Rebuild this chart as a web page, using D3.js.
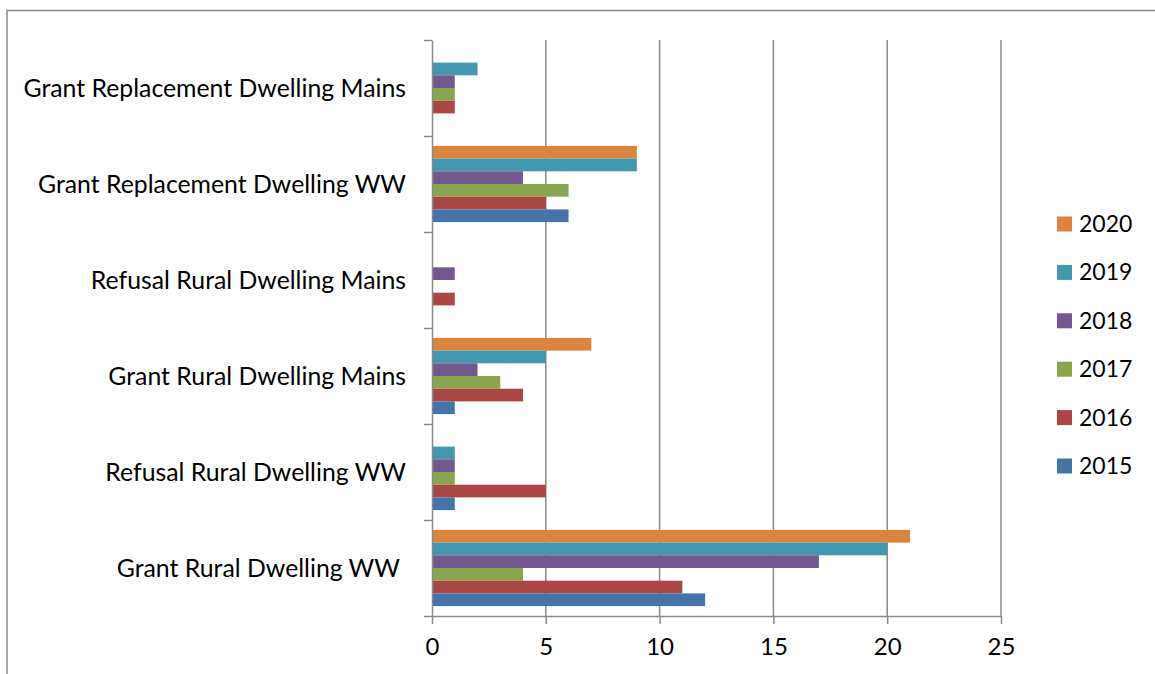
<!DOCTYPE html>
<html>
<head>
<meta charset="utf-8">
<script src="https://cdn.jsdelivr.net/npm/d3@7"></script>
<style>
  body { margin: 0; background: #fff; }
  text { font-family: Lato, "Open Sans", sans-serif; fill: #000; }
</style>
</head>
<body>
<div id="chart"></div>
<script>
// categories top -> bottom as they appear
const categories = [
    "Grant Replacement Dwelling Mains",
    "Grant Replacement Dwelling WW",
    "Refusal Rural Dwelling Mains",
    "Grant Rural Dwelling Mains",
    "Refusal Rural Dwelling WW",
    "Grant Rural Dwelling WW "
]
const years = ["2020", "2019", "2018", "2017", "2016", "2015"]

// values per year, same order as categories
const v2015 = [0, 6, 0, 1, 1, 12]
const v2016 = [1, 5, 1, 4, 5, 11]
const v2017 = [1, 6, 0, 3, 1, 4]
const v2018 = [1, 4, 1, 2, 1, 17]
const v2019 = [2, 9, 0, 5, 1, 20]
const v2020 = [0, 9, 0, 7, 0, 21]

const xTicks = [0, 5, 10, 15, 20, 25]

const colors = {
    "2015": "#4572A7",
    "2016": "#AA4643",
    "2017": "#89A54E",
    "2018": "#71588F",
    "2019": "#4198AF",
    "2020": "#DB843D"
}

const seriesValues = {"2015": v2015, "2016": v2016, "2017": v2017, "2018": v2018, "2019": v2019, "2020": v2020}

var W = 1155, H = 674
var margin = {top: 40, left: 432, right: 154, bottom: 58}
var width = W - margin.left - margin.right,
    height = H - margin.top - margin.bottom

var svg = d3.select("#chart").append("svg")
    .attr("width", W)
    .attr("height", H)

// outer chart border (right/bottom run off the picture)
svg.append("rect")
    .attr("x", 7).attr("y", 10.5)
    .attr("width", W + 20).attr("height", H + 20)
    .attr("fill", "none")
    .attr("stroke", "#8a8a8a")
    .attr("stroke-width", 1.5)

var g = svg.append("g")
    .attr("transform", "translate(" + margin.left + "," + margin.top + ")")

var x = d3.scaleLinear().domain([0, 25]).range([0, width])
var y = d3.scaleBand().domain(categories).range([0, height]).paddingInner(0)
var yInner = d3.scaleBand().domain(years).range([0, y.bandwidth()]).paddingInner(0).paddingOuter(0.78)
var yEdge = d3.scaleLinear().domain([0, categories.length]).range([0, height])

// vertical gridlines
g.append("g")
    .selectAll("line")
    .data(xTicks.filter(d => d > 0))
    .enter()
    .append("line")
    .attr("x1", d => x(d)).attr("x2", d => x(d))
    .attr("y1", 0).attr("y2", height)
    .attr("stroke", "#8a8a8a")
    .attr("stroke-width", 1.5)

// bars
var rows = []
categories.forEach(function(c, i) {
    years.forEach(function(yr) {
        rows.push({cat: c, year: yr, value: seriesValues[yr][i]})
    })
})

g.selectAll("bars")
    .data(rows.filter(d => d.value > 0))
    .enter()
    .append("rect")
    .attr("x", x(0))
    .attr("y", d => y(d.cat) + yInner(d.year))
    .attr("width", d => x(d.value) - x(0))
    .attr("height", yInner.bandwidth())
    .attr("fill", d => colors[d.year])

// x axis
var xAxis = g.append("g")
    .attr("transform", "translate(0," + height + ")")
    .call(d3.axisBottom(x).tickValues(xTicks).tickSize(8).tickSizeOuter(0).tickPadding(14))
xAxis.select(".domain").attr("stroke", "#8a8a8a").attr("stroke-width", 1.5)
xAxis.selectAll(".tick line").attr("stroke", "#8a8a8a").attr("stroke-width", 1.5)
xAxis.selectAll(".tick text").style("font-size", "24px").attr("fill", "#000")

// y axis: ticks on category boundaries
var yAxis = g.append("g")
    .call(d3.axisLeft(yEdge).ticks(categories.length).tickFormat("").tickSize(8).tickSizeOuter(0))
yAxis.select(".domain").attr("stroke", "#8a8a8a").attr("stroke-width", 1.5)
yAxis.selectAll(".tick line").attr("stroke", "#8a8a8a").attr("stroke-width", 1.5)

// category labels
g.selectAll("catLabels")
    .data(categories)
    .enter()
    .append("text")
    .attr("x", -26)
    .attr("y", d => y(d) + y.bandwidth() / 2)
    .attr("dy", "0.35em")
    .attr("text-anchor", "end")
    .style("white-space", "pre")
    .style("font-size", "24.8px")
    .text(d => d)

// legend
var legend = svg.append("g").attr("transform", "translate(1057,224)")
var item = legend.selectAll("legendItem")
    .data(years)
    .enter()
    .append("g")
    .attr("transform", (d, i) => "translate(0," + (i * 48.4) + ")")
item.append("rect")
    .attr("x", 0).attr("y", -7.5)
    .attr("width", 15).attr("height", 15)
    .attr("fill", d => colors[d])
item.append("text")
    .attr("x", 22)
    .attr("dy", "0.35em")
    .style("font-size", "23px")
    .text(d => d)
</script>
</body>
</html>
